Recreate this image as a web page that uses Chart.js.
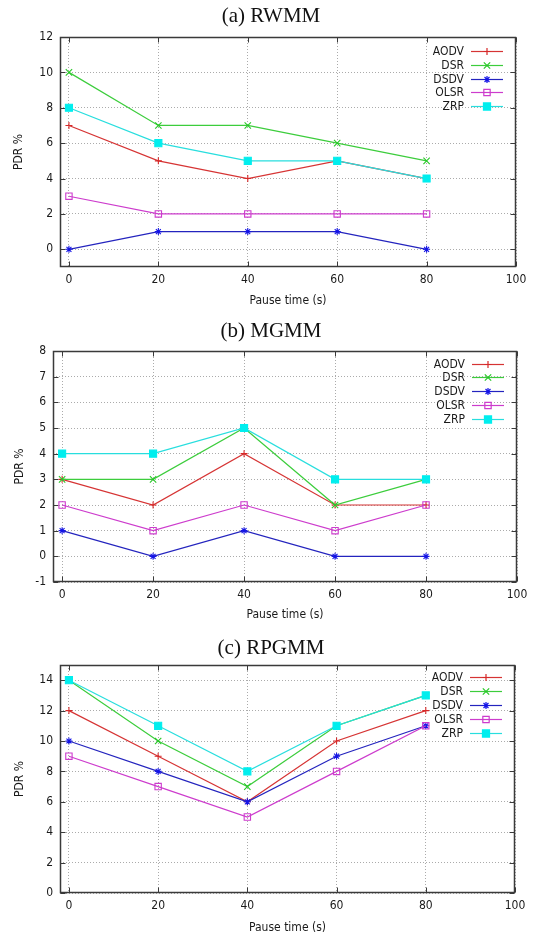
<!DOCTYPE html>
<html>
<head>
<meta charset="utf-8">
<script src="https://cdn.jsdelivr.net/npm/chart.js@4.4.1/dist/chart.umd.min.js"></script>
<style>
  body { margin: 0; background: #fff; width: 534px; height: 935px; position: relative; overflow: hidden; }
  .panel { position: absolute; left: 0; width: 534px; }
  .ttl { position: absolute; left: 0; width: 534px; padding-left: 8px; box-sizing: border-box; text-align: center;
         font: 21px "Liberation Serif", serif; line-height: 24px; color: #111; z-index: 2; }
  canvas { display: block; }
</style>
</head>
<body>
<div class="ttl" id="t0" style="top:3px"></div>
<div class="ttl" id="t1" style="top:318px"></div>
<div class="ttl" id="t2" style="top:635px"></div>
<div class="panel" style="top:0;height:312px"><canvas id="c0" width="534" height="312"></canvas></div>
<div class="panel" style="top:312px;height:310px"><canvas id="c1" width="534" height="310"></canvas></div>
<div class="panel" style="top:622px;height:313px"><canvas id="c2" width="534" height="313"></canvas></div>
<script>
// data
const pauseTimes = [0, 20, 40, 60, 80];
const protocols = ["AODV", "DSR", "DSDV", "OLSR", "ZRP"];
const panelTitles = ["(a) RWMM", "(b) MGMM", "(c) RPGMM"];

// rows follow the protocols order
const rwmmPdr = [[7, 5, 4, 5, 4], [10, 7, 7, 6, 5], [0, 1, 1, 1, 0], [3, 2, 2, 2, 2], [8, 6, 5, 5, 4]];
const mgmmPdr = [[3, 2, 4, 2, 2], [3, 3, 5, 2, 3], [1, 0, 1, 0, 0], [2, 1, 2, 1, 2], [4, 4, 5, 3, 3]];
const rpgmmPdr = [[12, 9, 6, 10, 12], [14, 10, 7, 11, 13], [10, 8, 6, 9, 11], [9, 7, 5, 8, 11], [14, 11, 8, 11, 13]];

const xTicks = [0, 20, 40, 60, 80, 100];
const rwmmYTicks = [0, 2, 4, 6, 8, 10, 12];
const mgmmYTicks = [-1, 0, 1, 2, 3, 4, 5, 6, 7, 8];
const rpgmmYTicks = [0, 2, 4, 6, 8, 10, 12, 14];

// styles (gnuplot defaults)
const lineColors = ["rgb(214,52,52)", "rgb(60,205,60)", "rgb(36,36,190)", "rgb(205,60,205)", "rgb(40,222,222)"];
const markColors = ["rgb(214,40,40)", "rgb(40,200,40)", "rgb(20,20,230)", "rgb(205,60,205)", "rgb(0,238,238)"];
const pointStyles = ["cross", "crossRot", "star", "rect", "rect"];
const pointSizes = [3.5, 4.5, 3.5, 4.5, 5];
const pointFills = ["rgba(0,0,0,0)", "rgba(0,0,0,0)", "rgba(0,0,0,0)", "rgba(0,0,0,0)", "rgb(0,238,238)"];

const tickFont = { family: '"DejaVu Sans Condensed", "DejaVu Sans", sans-serif', size: 12 };
const textColor = "#1a1a1a";

const gnuFrame = {
  id: "gnuFrame",
  beforeDatasetsDraw(chart) {
    const { ctx, chartArea: a, scales } = chart;
    const L = Math.round(a.left) + 0.5, R = Math.round(a.right) - 0.5;
    const T = Math.round(a.top) + 0.5, B = Math.round(a.bottom) - 0.5;
    ctx.save();
    ctx.strokeStyle = "#3a3a3a";
    ctx.lineWidth = 1;
    ctx.beginPath();
    xTicks.forEach(v => {
      const px = Math.round(scales.x.getPixelForValue(v)) + 0.5;
      ctx.moveTo(px, B); ctx.lineTo(px, B - 5);
      ctx.moveTo(px, T); ctx.lineTo(px, T + 5);
    });
    scales.y.ticks.forEach(t => {
      const py = Math.round(scales.y.getPixelForValue(t.value)) + 0.5;
      ctx.moveTo(L, py); ctx.lineTo(L + 5, py);
      ctx.moveTo(R, py); ctx.lineTo(R - 5, py);
    });
    ctx.stroke();
    ctx.lineWidth = 1.5;
    ctx.strokeRect(L, T, R - L, B - T);
    ctx.restore();
  },
  afterDatasetsDraw(chart, args, opts) {
    const { ctx, chartArea: a } = chart;
    ctx.save();
    ctx.font = tickFont.size + "px " + tickFont.family;
    ctx.textAlign = "right";
    ctx.textBaseline = "middle";
    chart.data.datasets.forEach((ds, i) => {
      const y = Math.round(a.top + opts.top + i * 13.8) + 0.5;
      ctx.fillStyle = textColor;
      ctx.fillText(ds.label, a.right - 52, y);
      ctx.strokeStyle = ds.borderColor;
      ctx.lineWidth = ds.borderWidth;
      ctx.beginPath();
      ctx.moveTo(a.right - 45, y);
      ctx.lineTo(a.right - 13, y);
      ctx.stroke();
      ctx.strokeStyle = ds.pointBorderColor;
      ctx.fillStyle = ds.pointBackgroundColor;
      Chart.helpers.drawPoint(ctx, { pointStyle: ds.pointStyle, radius: ds.pointRadius, borderWidth: 1, rotation: 0 }, a.right - 29, y);
    });
    ctx.restore();
  }
};

function makePanel(idx, series, yTicks, yMin, yMax, box) {
  document.getElementById("t" + idx).textContent = panelTitles[idx];
  const canvas = document.getElementById("c" + idx);
  const W = canvas.width, H = canvas.height;
  const datasets = protocols.map((name, i) => ({
    label: name,
    data: pauseTimes.map((x, j) => ({ x: x, y: series[i][j] })),
    borderColor: lineColors[i],
    borderWidth: 1.2,
    pointStyle: pointStyles[i],
    pointRadius: pointSizes[i],
    pointBorderColor: markColors[i],
    pointBackgroundColor: pointFills[i],
    pointBorderWidth: 1.1,
    tension: 0,
    order: protocols.length - i
  }));
  const gridOpts = { color: "#ababab", lineWidth: 1, drawTicks: false };
  new Chart(canvas.getContext("2d"), {
    type: "line",
    data: { datasets },
    plugins: [gnuFrame],
    options: {
      responsive: false,
      animation: false,
      layout: { padding: { top: box.top, right: W - box.right, left: 0, bottom: 0 } },
      plugins: {
        legend: { display: false },
        tooltip: { enabled: false },
        gnuFrame: { top: box.legendTop }
      },
      scales: {
        x: {
          type: "linear",
          min: -2,
          max: 100,
          afterBuildTicks: s => { s.ticks = xTicks.map(v => ({ value: v })); },
          afterFit: s => { s.height = H - box.bottom; },
          grid: gridOpts,
          border: { display: false, dash: [1, 2] },
          ticks: { padding: 6, color: textColor, font: tickFont, maxRotation: 0 },
          title: { display: true, text: "Pause time (s)", color: textColor, font: tickFont, padding: { top: 0, bottom: box.xTitlePad } }
        },
        y: {
          type: "linear",
          min: yMin,
          max: yMax,
          afterBuildTicks: s => { s.ticks = yTicks.map(v => ({ value: v })); },
          afterFit: s => { s.width = box.left; },
          grid: gridOpts,
          border: { display: false, dash: [1, 2] },
          ticks: { padding: 7, color: textColor, font: tickFont },
          title: { display: true, text: "PDR %", color: textColor, font: tickFont, padding: { top: box.yTitlePad, bottom: 0 } }
        }
      }
    }
  });
}

makePanel(0, rwmmPdr, rwmmYTicks, -1, 12,
  { left: 60, top: 37, right: 516, bottom: 267, xTitlePad: 4, yTitlePad: 12, legendTop: 14 });
makePanel(1, mgmmPdr, mgmmYTicks, -1, 8,
  { left: 53, top: 39, right: 517, bottom: 270, xTitlePad: 0, yTitlePad: 13, legendTop: 12.6 });
makePanel(2, rpgmmPdr, rpgmmYTicks, 0, 15,
  { left: 60, top: 43, right: 515, bottom: 271, xTitlePad: 0, yTitlePad: 13, legendTop: 12.3 });
</script>
</body>
</html>
